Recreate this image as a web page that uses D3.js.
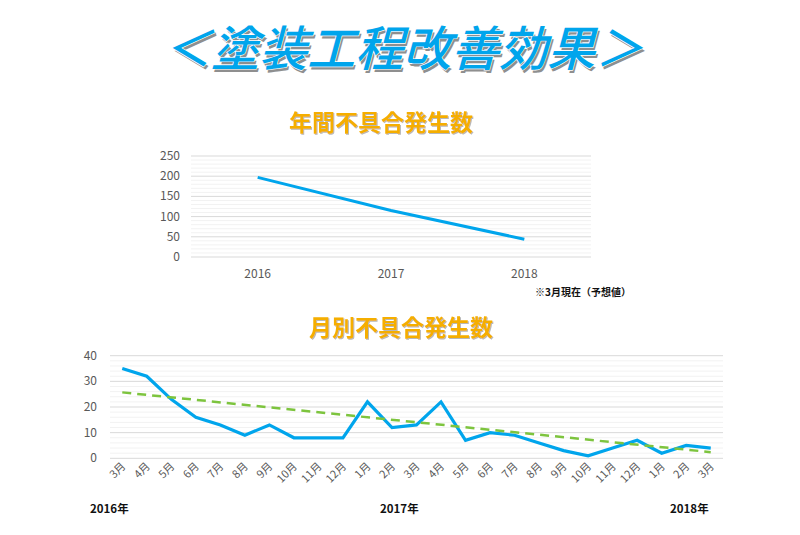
<!DOCTYPE html>
<html lang="ja">
<head>
<meta charset="UTF-8">
<title>塗装工程改善効果</title>
<script src="https://d3js.org/d3.v7.min.js"></script>
<style>
  body { margin: 0; background: #fff; }
  svg { display: block; font-family: "Noto Sans CJK JP", "Noto Sans", sans-serif; }
  .axis-label { fill: #595959; font-size: 12px; }
</style>
</head>
<body>
<div id="chart"></div>
<script>
// Annual defect counts
const years = ["2016", "2017", "2018"];
const yearlyCounts = [197, 115, 44];
const yearlyTicks = [0, 50, 100, 150, 200, 250];

// Monthly defect counts, 2016/3 .. 2018/3
const months = ["3月", "4月", "5月", "6月", "7月", "8月", "9月", "10月", "11月", "12月",
  "1月", "2月", "3月", "4月", "5月", "6月", "7月", "8月", "9月", "10月", "11月", "12月",
  "1月", "2月", "3月"];
const monthlyCounts = [35, 32, 23, 16, 13, 9, 13, 8, 8, 8, 22, 12, 13, 22, 7, 10, 9, 6, 3, 1, 4, 7, 2, 5, 4];
const monthlyTicks = [0, 10, 20, 30, 40];
// trend line ends (first and last month)
const trendEnds = [25.7, 2.4];
const yearMarks = [
  { label: "2016年", index: 0 },
  { label: "2017年", index: 12 },
  { label: "2018年", index: 24 }
];

const W = 800, H = 535;
const blue = "#00A5EC";
const green = "#7DC43E";
const orange = "#F5AE00";

const svg = d3.select("#chart").append("svg")
  .attr("width", W).attr("height", H);

// shadow filter for sub titles
const defs = svg.append("defs");
const f = defs.append("filter").attr("id", "soft").attr("x", "-10%").attr("y", "-20%")
  .attr("width", "120%").attr("height", "140%");
f.append("feDropShadow").attr("dx", 1).attr("dy", 1).attr("stdDeviation", 0.6)
  .attr("flood-color", "#888").attr("flood-opacity", 0.6);

// Main title
const title = "＜塗装工程改善効果＞";
const tg = svg.append("g").attr("transform", "translate(403,66) skewX(-15)");
tg.append("text")
  .attr("x", 2.5).attr("y", 2.5)
  .attr("text-anchor", "middle")
  .attr("font-size", 48).attr("font-weight", 500)
  .attr("fill", "#8f8f8f")
  .text(title);
tg.append("text")
  .attr("text-anchor", "middle")
  .attr("font-size", 48).attr("font-weight", 500)
  .attr("fill", blue)
  .attr("stroke", "#fff").attr("stroke-width", 1.4)
  .attr("paint-order", "stroke")
  .text(title);

function subTitle(text, x, y) {
  svg.append("text")
    .attr("x", x).attr("y", y)
    .attr("text-anchor", "middle")
    .attr("font-size", 23).attr("font-weight", 700)
    .attr("fill", orange)
    .attr("filter", "url(#soft)")
    .text(text);
}

function grid(g, y, x0, x1, max, minorStep, majorStep) {
  const minor = d3.range(0, max + 0.001, minorStep).filter(v => v % majorStep !== 0);
  g.selectAll(".minor").data(minor).join("line")
    .attr("x1", x0).attr("x2", x1)
    .attr("y1", d => y(d)).attr("y2", d => y(d))
    .attr("stroke", "#F2F2F2").attr("stroke-width", 1);
  g.selectAll(".major").data(d3.range(0, max + 0.001, majorStep)).join("line")
    .attr("class", "major")
    .attr("x1", x0).attr("x2", x1)
    .attr("y1", d => y(d)).attr("y2", d => y(d))
    .attr("stroke", "#D9D9D9").attr("stroke-width", 1);
}

// ---- Annual chart ----
subTitle("年間不具合発生数", 381, 131);

const x1 = d3.scaleBand().domain(years).range([191, 591]);
const y1 = d3.scaleLinear().domain([0, 250]).range([257, 156]);

const g1 = svg.append("g");
grid(g1, y1, 191, 591, 250, 10, 50);

g1.selectAll(".ylab").data(yearlyTicks).join("text")
  .attr("class", "axis-label")
  .attr("x", 180).attr("y", d => y1(d) + 4)
  .attr("text-anchor", "end")
  .text(d => d);

g1.selectAll(".xlab").data(years).join("text")
  .attr("class", "axis-label")
  .attr("x", d => x1(d) + x1.bandwidth() / 2).attr("y", 278)
  .attr("text-anchor", "middle")
  .text(d => d);

g1.append("path")
  .datum(yearlyCounts)
  .attr("fill", "none").attr("stroke", blue).attr("stroke-width", 3)
  .attr("d", d3.line()
    .x((d, i) => x1(years[i]) + x1.bandwidth() / 2)
    .y(d => y1(d)));

svg.append("text")
  .attr("x", 631).attr("y", 296)
  .attr("text-anchor", "end")
  .attr("font-size", 10).attr("font-weight", 700).attr("fill", "#111")
  .text("※3月現在（予想値）");

// ---- Monthly chart ----
subTitle("月別不具合発生数", 401, 336);

const idx = d3.range(months.length);
const x2 = d3.scaleBand().domain(idx).range([110, 723]);
const y2 = d3.scaleLinear().domain([0, 40]).range([458.3, 355.7]);
const cx = i => x2(i) + x2.bandwidth() / 2;

const g2 = svg.append("g");
grid(g2, y2, 110, 723, 40, 2, 10);

g2.selectAll(".ylab").data(monthlyTicks).join("text")
  .attr("class", "axis-label")
  .attr("x", 97).attr("y", d => y2(d) + 4)
  .attr("text-anchor", "end")
  .text(d => d);

g2.selectAll(".xlab").data(idx).join("text")
  .attr("class", "axis-label")
  .style("font-size", "11px")
  .attr("text-anchor", "end")
  .attr("transform", i => `translate(${cx(i) + 4},${467}) rotate(-45)`)
  .text(i => months[i]);

g2.append("path")
  .datum(monthlyCounts)
  .attr("fill", "none").attr("stroke", blue).attr("stroke-width", 3.2)
  .attr("stroke-linejoin", "miter")
  .attr("d", d3.line().x((d, i) => cx(i)).y(d => y2(d)));

g2.append("path")
  .datum(trendEnds)
  .attr("fill", "none").attr("stroke", green).attr("stroke-width", 2.5)
  .attr("stroke-dasharray", "9,6")
  .attr("d", d3.line().x((d, i) => cx(i === 0 ? 0 : months.length - 1)).y(d => y2(d)));

svg.selectAll(".year").data(yearMarks).join("text")
  .attr("x", d => d.index === 0 ? 90 : (d.index === 24 ? 670 : 380))
  .attr("y", 513)
  .attr("font-size", 11.5).attr("font-weight", 700).attr("fill", "#111")
  .text(d => d.label);
</script>
</body>
</html>
